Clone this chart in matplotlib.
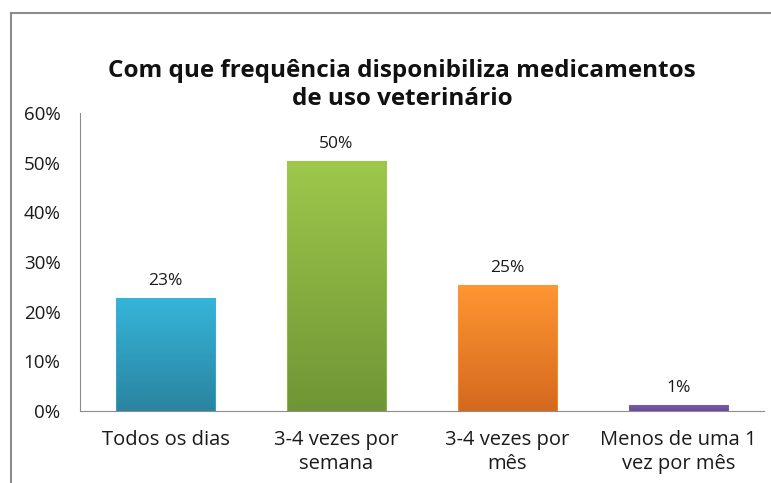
import matplotlib
matplotlib.use("Agg")
import matplotlib.pyplot as plt
import numpy as np
from matplotlib.colors import LinearSegmentedColormap
from matplotlib.lines import Line2D

categories = ["Todos os dias", "3-4 vezes por\nsemana", "3-4 vezes por\nmês", "Menos de uma 1\nvez por mês"]
values = [0.228, 0.503, 0.253, 0.013]
labels = ["23%", "50%", "25%", "1%"]
top_colors = ["#36B5DA", "#9DC84B", "#FF9632", "#7D5CAB"]
bottom_colors = ["#2A84A0", "#6F9535", "#D4691E", "#6A4A96"]
yticks = [0, 0.1, 0.2, 0.3, 0.4, 0.5, 0.6]
ytick_labels = ["0%", "10%", "20%", "30%", "40%", "50%", "60%"]
title = "Com que frequência disponibiliza medicamentos\nde uso veterinário"

plt.rcParams['font.family'] = ['Open Sans', 'DejaVu Sans']

fig = plt.figure(figsize=(7.71, 4.83), dpi=100)
W, H = 771, 483
ax = fig.add_axes([80 / W, 1 - 411 / H, (764 - 80) / W, (411 - 113) / H])

x = np.arange(len(categories))
width = 0.58
bars = ax.bar(x, values, width=width, color="none", edgecolor="none", zorder=2)
for b, tc, bc in zip(bars, top_colors, bottom_colors):
    cmap = LinearSegmentedColormap.from_list("g", [bc, tc])
    x0, y0 = b.get_x(), b.get_y()
    w, h = b.get_width(), b.get_height()
    grad = np.linspace(0, 1, 256).reshape(-1, 1)
    im = ax.imshow(grad, cmap=cmap, aspect="auto", origin="lower",
                   extent=[x0, x0 + w, y0, y0 + h], zorder=2)
    im.set_clip_path(b)
    ax.add_patch(plt.Rectangle((x0, y0), w, h, fill=False, edgecolor=tc, linewidth=0.8, alpha=0.6, zorder=3))

for xi, v, lab in zip(x, values, labels):
    ax.text(xi, v + 0.018, lab, ha="center", va="bottom", fontsize=12.5, color="#1a1a1a")

ax.set_xlim(-0.5, len(categories) - 0.5)
ax.set_ylim(0, 0.6)
ax.set_yticks(yticks)
ax.set_yticklabels(ytick_labels, fontsize=13.5, color="#1a1a1a")
ax.set_xticks(x)
ax.set_xticklabels(categories, fontsize=14.5, color="#1a1a1a", linespacing=1.25)
ax.tick_params(axis="y", length=0, pad=14)
ax.tick_params(axis="x", length=0, pad=14)
for s in ["top", "right"]:
    ax.spines[s].set_visible(False)
ax.spines["left"].set_color("#8c8c8c")
ax.spines["bottom"].set_color("#8c8c8c")
ax.spines["left"].set_linewidth(0.8)
ax.spines["bottom"].set_linewidth(0.8)

fig.text(402 / W, 1 - 85 / H, title, ha="center", va="center", fontsize=17.5,
         fontweight="bold", color="#111111", linespacing=1.25)

# outer chart frame
fig.add_artist(Line2D([11 / W, 1], [1 - 13 / H, 1 - 13 / H], transform=fig.transFigure, color="#8c8c8c", lw=1.5))
fig.add_artist(Line2D([11 / W, 11 / W], [1 - 13 / H, 0], transform=fig.transFigure, color="#8c8c8c", lw=1.5))

fig.savefig("out.png", dpi=100)
